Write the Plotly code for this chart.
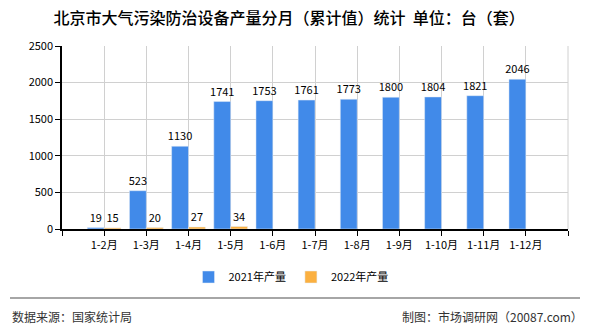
import plotly.graph_objects as go

categories = ["1-2月", "1-3月", "1-4月", "1-5月", "1-6月", "1-7月", "1-8月", "1-9月", "1-10月", "1-11月", "1-12月"]
values_2021 = [19, 523, 1130, 1741, 1753, 1761, 1773, 1800, 1804, 1821, 2046]
values_2022 = [15, 20, 27, 34]
series_names = ["2021年产量", "2022年产量"]
y_ticks = [0, 500, 1000, 1500, 2000, 2500]

FONT = "Noto Sans CJK SC"
L, R, T, B = 62, 568, 46, 229
W, H = 590, 330
pw, ph = R - L, B - T

def px(x):
    return (x - L) / pw

def py(y):
    return (B - y) / ph

xpos21 = list(range(1, len(values_2021) + 1))
xpos22 = list(range(1, len(values_2022) + 1))

fig = go.Figure()
fig.add_trace(go.Bar(
    x=xpos21, y=values_2021, name=series_names[0], marker_color="#418AE9",
    text=[str(v) for v in values_2021], textposition="outside", constraintext="none",
    textfont=dict(size=11, color="#000000", family=FONT), cliponaxis=False,
))
fig.add_trace(go.Bar(
    x=xpos22, y=values_2022, name=series_names[1], marker_color="#FBB040",
    text=[str(v) for v in values_2022], textposition="outside", constraintext="none",
    textfont=dict(size=11, color="#000000", family=FONT), cliponaxis=False,
))

fig.update_layout(
    width=W, height=H,
    margin=dict(l=L, r=W - R, t=T, b=H - B),
    paper_bgcolor="white", plot_bgcolor="white",
    barmode="group", bargap=0.2, bargroupgap=0,
    font=dict(family=FONT, size=11, color="#000000"),
    title=dict(text="北京市大气污染防治设备产量分月（累计值）统计  单位：台（套）",
               x=0.49, xref="container", xanchor="center", y=1 - 18 / H, yanchor="middle",
               font=dict(size=16, color="#000000", family=FONT, weight=500)),
    showlegend=True,
    legend=dict(orientation="h", x=px(291), xanchor="center", y=py(277), yanchor="middle",
                font=dict(size=11, color="#000000", family=FONT), traceorder="normal",
                itemwidth=30),
)

fig.update_xaxes(
    range=[0, 12], tickmode="array", tickvals=list(range(0, 13)),
    ticktext=[""] + categories + [""],
    showgrid=True, gridcolor="#D0D0D0", gridwidth=1,
    showline=True, linecolor="#000000", linewidth=1.5,
    ticks="outside", ticklen=5, tickcolor="#000000",
    tickfont=dict(size=11, family=FONT, color="#000000"),
    zeroline=False,
)
fig.update_yaxes(
    range=[0, 2500], tickmode="array", tickvals=y_ticks,
    showgrid=True, gridcolor="#D0D0D0", gridwidth=1,
    showline=True, linecolor="#000000", linewidth=1.5,
    ticks="outside", ticklen=5, tickcolor="#000000",
    tickfont=dict(size=11, family=FONT, color="#000000"),
    zeroline=False,
)

# right border of plot area
fig.add_shape(type="line", xref="paper", yref="paper", x0=1, x1=1, y0=0, y1=1,
              line=dict(color="#D0D0D0", width=1))
# separator line
fig.add_shape(type="line", xref="paper", yref="paper", x0=px(10), x1=px(580),
              y0=py(298), y1=py(298), line=dict(color="#888888", width=1.5))

fig.add_annotation(text="数据来源：国家统计局", xref="paper", yref="paper",
                   x=px(10), y=py(316), xanchor="left", yanchor="middle", showarrow=False,
                   font=dict(size=12, color="#333333", family=FONT))
fig.add_annotation(text="制图：市场调研网（20087.com）", xref="paper", yref="paper",
                   x=px(585), y=py(316), xanchor="right", yanchor="middle", showarrow=False,
                   font=dict(size=12, color="#333333", family=FONT))

fig.write_html("out.html")
